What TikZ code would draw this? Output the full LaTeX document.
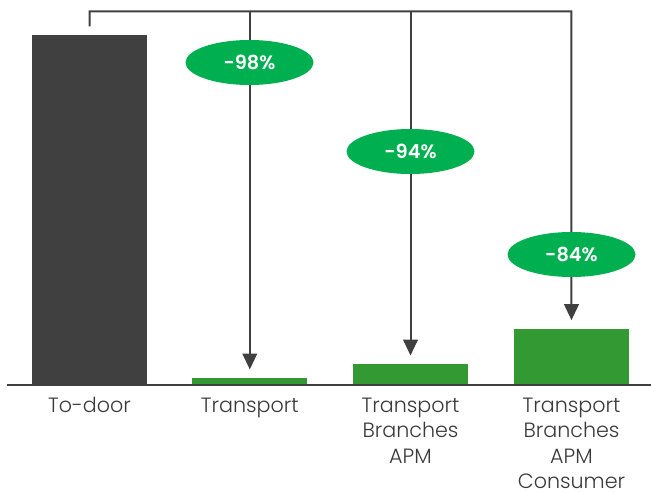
\documentclass[tikz,border=0pt]{standalone}
\usepackage{fontspec}
\setmainfont{Poppins}[UprightFont=* Light, BoldFont=* SemiBold]
\usetikzlibrary{arrows.meta, positioning, shapes.geometric}
\definecolor{CDark}{HTML}{404040}
\definecolor{CBar}{HTML}{339933}
\definecolor{CPill}{HTML}{00B050}
\definecolor{CText}{HTML}{3A3A3A}

\begin{document}
\begin{tikzpicture}[
    x=0.75pt, y=-0.75pt,
    bar/.style={rectangle, anchor=south, inner sep=0pt, minimum width=86.25pt},
    cat/.style={align=center, inner sep=0pt, text=CText, font=\fontsize{15.5}{19.2}\selectfont},
    pill/.style={ellipse, fill=CPill, inner sep=0pt, minimum width=96pt, minimum height=33.75pt, text=white, font=\fontsize{14.5}{16}\selectfont\bfseries},
    link/.style={line width=1.5pt, CDark},
    arrow/.style={link, -{Triangle[length=12pt, width=11pt]}, shorten >=6.2pt},
]
\useasboundingbox (0,0) rectangle (651,492);

% Bars
\node[bar, fill=CDark, minimum height=262.3pt] (door) at (89.5,384.7) {};
\node[bar, fill=CBar, minimum height=4.8pt] (trans) at (249.8,384.7) {};
\node[bar, fill=CBar, minimum height=15.3pt] (branch) at (410.5,384.7) {};
\node[bar, fill=CBar, minimum height=41.8pt] (cons) at (571.5,384.7) {};

% Axis
\coordinate (axisL) at (7,384.7);
\coordinate (axisR) at (651,384.7);
\draw[link, line width=1.2pt] (axisL) -- (axisR);

% Categories
\node[cat, below=9.5pt of door] (doorlbl) {To-door};
\node[cat, below=9.5pt of trans] (translbl) {Transport};
\node[cat, below=9.5pt of branch] (branchlbl) {Transport\\Branches\\APM};
\node[cat, below=9.5pt of cons] (conslbl) {Transport\\Branches\\APM\\Consumer};

% Bracket and arrows
\coordinate (rail) at (571.3,11.5);
\draw[arrow, shorten <=6pt] (door.north) |- (rail) -- (cons.north);
\draw[arrow] (rail -| trans.north) -- (trans.north);
\draw[arrow] (rail -| branch.north) -- (branch.north);

% Reductions
\node[pill] (cut1) at (249.5,62.5) {-98\%};
\node[pill] (cut2) at (410.5,151.5) {-94\%};
\node[pill] (cut3) at (571.5,254.5) {-84\%};

\end{tikzpicture}
\end{document}
